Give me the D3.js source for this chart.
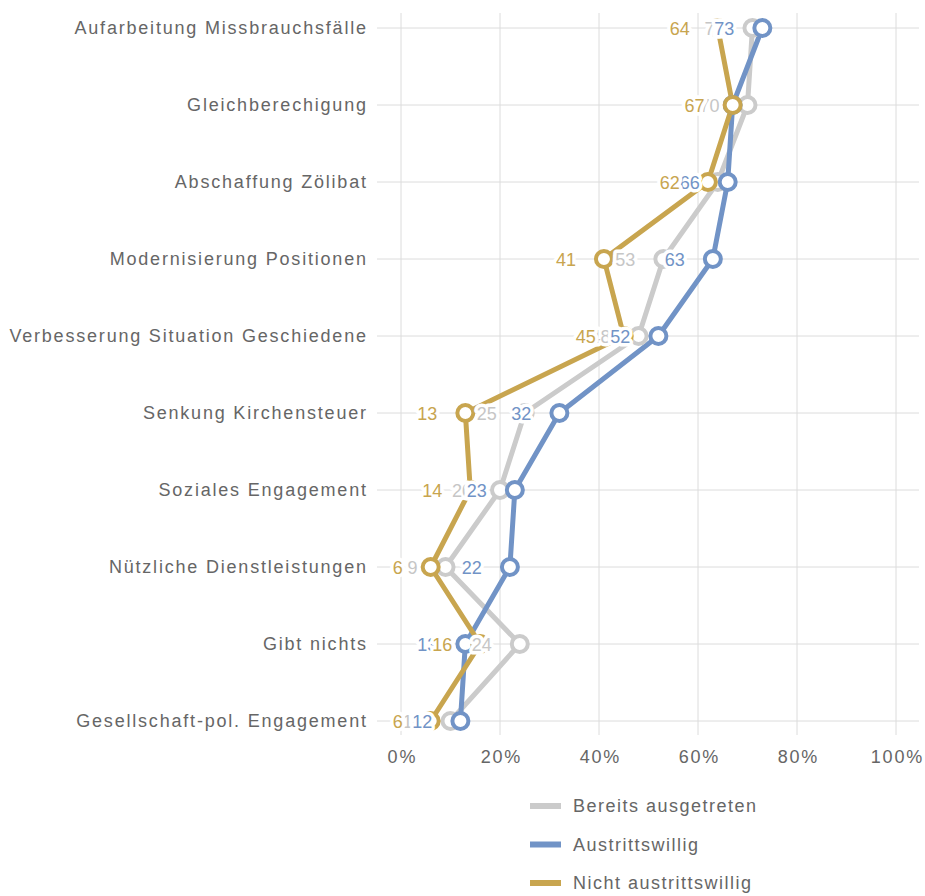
<!DOCTYPE html>
<html>
<head>
<meta charset="utf-8">
<script src="https://cdn.jsdelivr.net/npm/d3@7"></script>
<style>
  html, body { margin: 0; padding: 0; background: #fff; }
  svg text { font-family: "Liberation Sans", Arial, sans-serif; }
</style>
</head>
<body>
<svg id="chart" width="925" height="896"></svg>
<script>
// Reform wishes by church membership status (share in %)
const categories = [
  "Aufarbeitung Missbrauchsfälle",
  "Gleichberechigung",
  "Abschaffung Zölibat",
  "Modernisierung Positionen",
  "Verbesserung Situation Geschiedene",
  "Senkung Kirchensteuer",
  "Soziales Engagement",
  "Nützliche Dienstleistungen",
  "Gibt nichts",
  "Gesellschaft-pol. Engagement"
];
const bereitsAusgetreten   = [71, 70, 64, 53, 48, 25, 20, 9, 24, 10];
const austrittswillig      = [73, 67, 66, 63, 52, 32, 23, 22, 13, 12];
const nichtAustrittswillig = [64, 67, 62, 41, 45, 13, 14, 6, 16, 6];
const seriesNames = ["Bereits ausgetreten", "Austrittswillig", "Nicht austrittswillig"];
const tickValues = [0, 20, 40, 60, 80, 100];

const colors = ["#cbcbcb", "#7193c6", "#c8a54f"];
const series = [bereitsAusgetreten, austrittswillig, nichtAustrittswillig].map((vals, i) => ({
  name: seriesNames[i],
  color: colors[i],
  points: vals.map((v, j) => ({ cat: categories[j], value: v }))
}));

const svg = d3.select("#chart");
const x = d3.scaleLinear().domain([0, 100]).range([401, 896]);
const y = d3.scalePoint().domain(categories).range([28, 721]);
const textColor = "#666";
const fontSize = 18;
const spacing = 1.8;

// grid
const grid = svg.append("g");
grid.selectAll("line.h").data(categories).join("line")
  .attr("x1", 377).attr("x2", 919)
  .attr("y1", d => y(d)).attr("y2", d => y(d))
  .attr("stroke", "#dcdcdc").attr("stroke-width", 1);
grid.selectAll("line.v").data(tickValues).join("line")
  .attr("x1", d => x(d)).attr("x2", d => x(d))
  .attr("y1", 13).attr("y2", 735)
  .attr("stroke", "#dcdcdc").attr("stroke-width", 1);

// category labels
svg.append("g").selectAll("text").data(categories).join("text")
  .attr("x", 366 + spacing).attr("y", d => y(d) + 6)
  .attr("text-anchor", "end")
  .attr("font-size", fontSize).attr("fill", textColor)
  .attr("letter-spacing", spacing)
  .text(d => d);

// x axis
const xAxis = d3.axisBottom(x).tickValues(tickValues).tickFormat(d => d + "%").tickSize(0).tickPadding(0);
const ax = svg.append("g").attr("transform", "translate(0,763)").call(xAxis);
ax.select(".domain").remove();
ax.selectAll("text").attr("font-size", fontSize).attr("fill", textColor)
  .attr("dy", 0).attr("letter-spacing", spacing).attr("dx", spacing / 2)
  .style("font-family", "Liberation Sans, Arial, sans-serif");

// lines
const line = d3.line().x(d => x(d.value)).y(d => y(d.cat));
svg.append("g").selectAll("path").data(series).join("path")
  .attr("d", d => line(d.points))
  .attr("fill", "none").attr("stroke", d => d.color)
  .attr("stroke-width", 5).attr("stroke-linejoin", "round");

// points
series.forEach(s => {
  svg.append("g").selectAll("circle").data(s.points).join("circle")
    .attr("cx", d => x(d.value)).attr("cy", d => y(d.cat))
    .attr("r", 8).attr("fill", "#fff")
    .attr("stroke", s.color).attr("stroke-width", 4);
});

// value labels with white halo
series.forEach(s => {
  svg.append("g").selectAll("text").data(s.points).join("text")
    .attr("x", d => x(d.value) - 28).attr("y", d => y(d.cat) + 6.5)
    .attr("text-anchor", "end")
    .attr("font-size", fontSize)
    .attr("fill", s.color === colors[0] ? "#c6c6c6" : s.color)
    .attr("stroke", "#fff").attr("stroke-width", 7).attr("paint-order", "stroke")
    .attr("stroke-linejoin", "round")
    .text(d => d.value);
});

// legend
const legend = svg.append("g").selectAll("g").data(series).join("g")
  .attr("transform", (d, i) => `translate(530,${806 + i * 38.5})`);
legend.append("line").attr("x1", 0).attr("x2", 31).attr("y1", 0).attr("y2", 0)
  .attr("stroke", d => d.color).attr("stroke-width", 6);
legend.append("text").attr("x", 43).attr("y", 6)
  .attr("font-size", fontSize).attr("fill", textColor)
  .attr("letter-spacing", 1.5)
  .text(d => d.name);
</script>
</body>
</html>
